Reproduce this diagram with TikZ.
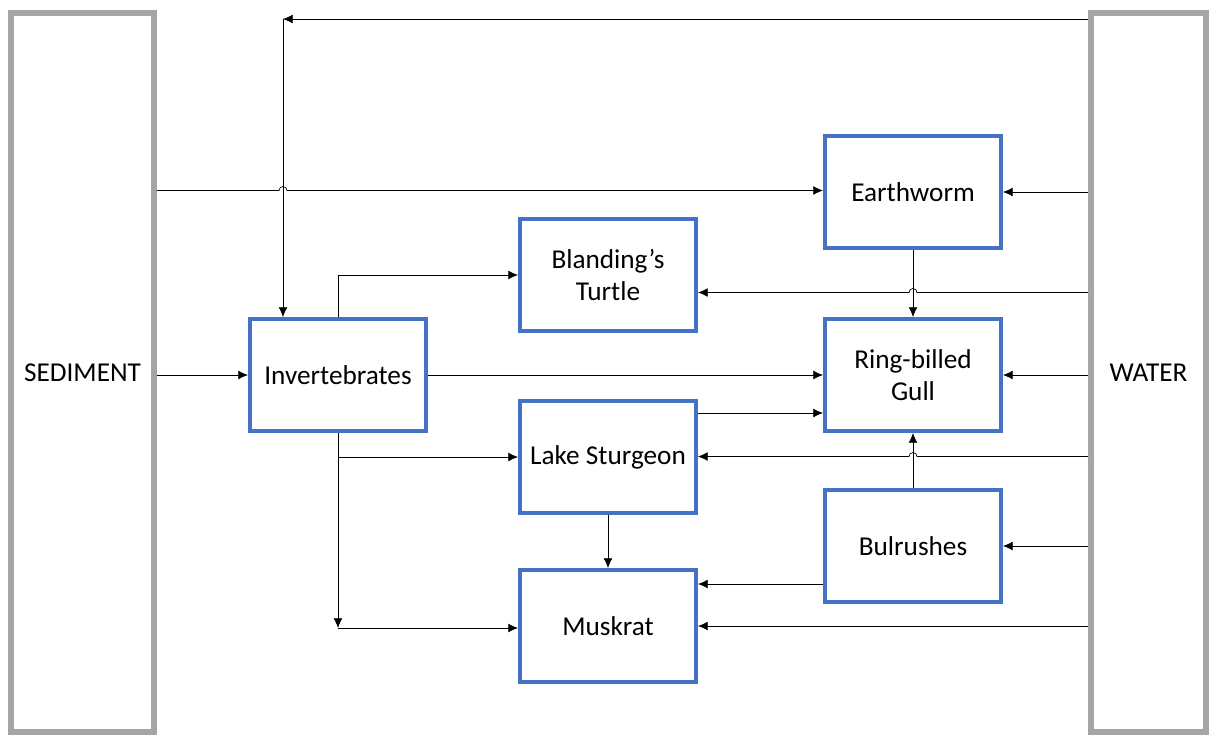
\documentclass[tikz,border=0pt]{standalone}
\usepackage{fontspec}
\setmainfont{Carlito}
\usepackage{tikz}
\usetikzlibrary{arrows.meta, calc, positioning}
\definecolor{boxblue}{HTML}{4472C4}
\definecolor{wallgray}{HTML}{A5A5A5}
\tikzset{
    -{Latex[length=5.5pt,width=5pt]}, line width=1.1pt,
    species/.style ={rectangle, draw=boxblue, line width=2.3pt, minimum width=3.52cm,
                     minimum height=2.24cm, align=center, font=\fontsize{15.5}{18.5}\selectfont},
    medium/.style ={rectangle, draw=wallgray, line width=3.4pt, minimum width=2.86cm,
                    minimum height=14.38cm, font=\fontsize{15.5}{18.5}\selectfont}
    }

\begin{document}
\begin{tikzpicture}[
      x = 0.02cm, % one pixel of the page
      y = -0.02cm,
      hop/.style = {radius=0.08cm} % jump over a crossing line
    ]
    \useasboundingbox (0,0) rectangle (1212,735);

    \node[medium] (1) at (82.5,372.5) {SEDIMENT};
    \node[medium, minimum width=2.3cm] (2) at (1148.5,372.5) {WATER};
    \node[species] (3) at (338,375) {Invertebrates};
    \node[species] (4) at (913,192) {Earthworm};
    \node[species] (5) at (608,275) {Blanding’s\\Turtle};
    \node[species] (6) at (913,375) {Ring-billed\\Gull};
    \node[species] (7) at (608,457) {Lake Sturgeon};
    \node[species] (8) at (913,546) {Bulrushes};
    \node[species] (9) at (608,626) {Muskrat};
    \coordinate (10) at (283,19);
    \coordinate (11) at (338,628);

    \draw (2.west |- 10) -- (10);
    \draw (10) -- (3.north -| 10);
    \draw (1.east |- 0,190.5) -- (279,190.5) arc[start angle=180, end angle=0, hop] -- (4.west |- 0,190.5);
    \draw (2.west |- 4) -- (4);
    \draw (3.north -| 338,0) -- (338,275) -- (5);
    \draw (2.west |- 0,292.5) -- (917,292.5) arc[start angle=0, end angle=180, hop] -- (5.east |- 0,292.5);
    \draw (4) -- (6);

    \draw (1.east |- 3) -- (3);
    \draw (3) -- (6);
    \draw (2.west |- 6) -- (6);
    \draw (7.east |- 0,413) -- (6.west |- 0,413);
    \draw (2.west |- 0,456.5) -- (917,456.5) arc[start angle=0, end angle=180, hop] -- (7.east |- 0,456.5);
    \draw (8) -- (6);
    \draw (2.west |- 8) -- (8);

    \draw (3.south -| 11) -- (11);
    \draw (11 |- 7) -- (7);
    \draw (11) -- (9.west |- 11);
    \draw (7) -- (9);
    \draw (8.west |- 0,584) -- (9.east |- 0,584);
    \draw (2.west |- 9) -- (9);

\end{tikzpicture}
\end{document}
